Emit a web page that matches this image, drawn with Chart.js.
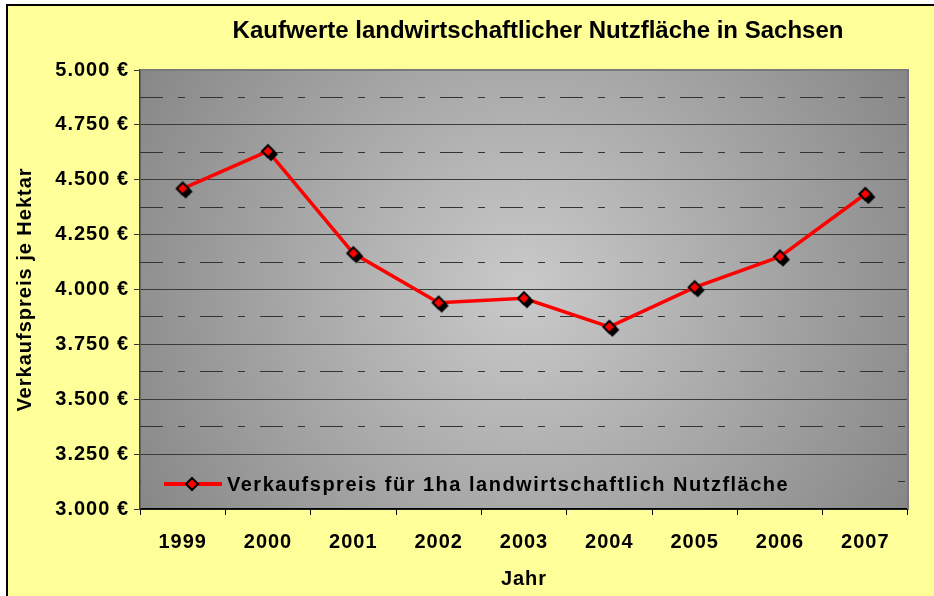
<!DOCTYPE html>
<html>
<head>
<meta charset="utf-8">
<script src="https://cdn.jsdelivr.net/npm/chart.js@4.4.0/dist/chart.umd.min.js"></script>
<style>
html, body { margin: 0; padding: 0; background: #fff; }
canvas { display: block; }
</style>
</head>
<body>
<canvas id="kaufwerteChart" width="934" height="596"></canvas>
<script>
// Daten
const jahre = ['1999', '2000', '2001', '2002', '2003', '2004', '2005', '2006', '2007'];
const verkaufspreise = [4460, 4630, 4165, 3940, 3960, 3830, 4010, 4150, 4435];
const hilfslinien = [3125, 3375, 3625, 3875, 4125, 4375, 4625, 4875];

const titel = 'Kaufwerte landwirtschaftlicher Nutzfläche in Sachsen';
const reihenName = 'Verkaufspreis für 1ha landwirtschaftlich Nutzfläche';
const titelX = 'Jahr';
const titelY = 'Verkaufspreis je Hektar';

const schrift = "'Liberation Sans', Arial, sans-serif";

// 5000 -> "5.000 €"
function formatEuro(wert) {
    const s = String(Math.round(wert));
    return s.slice(0, -3) + '.' + s.slice(-3) + ' €';
}

function raute(ctx, x, y, r) {
    ctx.beginPath();
    ctx.moveTo(x, y - r);
    ctx.lineTo(x + r, y);
    ctx.lineTo(x, y + r);
    ctx.lineTo(x - r, y);
    ctx.closePath();
}

// Marker: rote Raute mit schwarzem Rand und Schatten
const marker = document.createElement('canvas');
marker.width = 26;
marker.height = 26;
(function () {
    const m = marker.getContext('2d');
    raute(m, 16, 16, 7);
    m.fillStyle = '#000';
    m.fill();
    raute(m, 13, 13, 6);
    m.fillStyle = '#ff0000';
    m.fill();
    m.lineWidth = 2;
    m.strokeStyle = '#000';
    m.stroke();
})();

let verlauf = null;

const zeichenPlugin = {
    id: 'zeichenPlugin',
    beforeLayout(chart) {
        chart.ctx.letterSpacing = '1px';
    },
    beforeDraw(chart) {
        const ctx = chart.ctx;
        const a = chart.chartArea;
        ctx.save();
        // gelber Hintergrund mit Rahmen
        ctx.fillStyle = '#ffff99';
        ctx.fillRect(7, 5, chart.width - 7, chart.height - 5);
        ctx.strokeStyle = '#000';
        ctx.lineWidth = 2;
        ctx.beginPath();
        ctx.moveTo(7, chart.height);
        ctx.lineTo(7, 5);
        ctx.lineTo(chart.width, 5);
        ctx.stroke();
        // grauer Verlauf im Diagrammbereich
        const cx = (a.left + a.right) / 2;
        const cy = (a.top + a.bottom) / 2;
        verlauf = ctx.createRadialGradient(cx, cy, 0, cx, cy, 470);
        verlauf.addColorStop(0, '#cacaca');
        verlauf.addColorStop(1, '#838383');
        ctx.fillStyle = verlauf;
        ctx.fillRect(a.left, a.top, a.right - a.left, a.bottom - a.top);
        ctx.restore();
        ctx.letterSpacing = '1px';
    },
    beforeDatasetsDraw(chart) {
        const ctx = chart.ctx;
        const a = chart.chartArea;
        ctx.save();
        ctx.strokeStyle = '#7a7a7a';
        ctx.lineWidth = 2;
        ctx.beginPath();
        ctx.moveTo(a.left, a.top);
        ctx.lineTo(a.right, a.top);
        ctx.lineTo(a.right, a.bottom);
        ctx.stroke();
        ctx.restore();
    },
    afterDatasetsDraw(chart) {
        // Legende innerhalb des Diagramms unten
        const ctx = chart.ctx;
        const a = chart.chartArea;
        const mitte = a.bottom - 25;
        ctx.save();
        ctx.fillStyle = verlauf;
        ctx.fillRect(a.left + 1, mitte - 22, 754, 46);
        ctx.strokeStyle = '#ff0000';
        ctx.lineWidth = 4;
        ctx.beginPath();
        ctx.moveTo(a.left + 24, mitte);
        ctx.lineTo(a.left + 82, mitte);
        ctx.stroke();
        raute(ctx, a.left + 52, mitte, 6);
        ctx.fillStyle = '#ff0000';
        ctx.fill();
        ctx.lineWidth = 2;
        ctx.strokeStyle = '#000';
        ctx.stroke();
        ctx.letterSpacing = '1.5px';
        ctx.font = 'bold 20px ' + schrift;
        ctx.fillStyle = '#000';
        ctx.textAlign = 'left';
        ctx.textBaseline = 'middle';
        ctx.fillText(reihenName, a.left + 87, mitte + 1);
        ctx.restore();
    },
    afterDraw(chart) {
        const ctx = chart.ctx;
        ctx.save();
        ctx.letterSpacing = '0px';
        ctx.font = 'bold 24px ' + schrift;
        ctx.fillStyle = '#000';
        ctx.textAlign = 'center';
        ctx.textBaseline = 'middle';
        ctx.fillText(titel, 538, 31);
        ctx.restore();
    }
};

const ctx = document.getElementById('kaufwerteChart').getContext('2d');
const kaufwerteChart = new Chart(ctx, {
    type: 'line',
    data: {
        labels: jahre,
        datasets: [{
            label: reihenName,
            data: verkaufspreise,
            borderColor: '#ff0000',
            borderWidth: 3.5,
            pointStyle: marker,
            pointRadius: 7,
            tension: 0,
            fill: false
        }]
    },
    options: {
        responsive: false,
        animation: false,
        devicePixelRatio: 1,
        layout: {
            padding: { left: 7, top: 70, right: 26, bottom: 0 }
        },
        plugins: {
            legend: { display: false },
            tooltip: { enabled: false },
            title: { display: false }
        },
        scales: {
            x: {
                type: 'category',
                offset: true,
                afterFit: (scale) => { scale.height = 87; },
                grid: {
                    offset: true,
                    drawOnChartArea: false,
                    tickLength: 6,
                    color: '#000'
                },
                border: { color: '#000', width: 1.5 },
                ticks: {
                    color: '#000',
                    padding: 15,
                    font: { family: schrift, size: 20, weight: 'bold' }
                },
                title: {
                    display: true,
                    text: titelX,
                    color: '#000',
                    padding: { top: 0, bottom: 5 },
                    font: { family: schrift, size: 20, weight: 'bold' }
                }
            },
            y: {
                min: 3000,
                max: 5000,
                afterFit: (scale) => { scale.width = 133; },
                grid: {
                    color: (c) => (c.tick && c.tick.value === 5000 ? 'rgba(0,0,0,0)' : '#3a3a3a'),
                    tickColor: '#333',
                    tickLength: 6,
                    lineWidth: 1
                },
                border: { color: '#404040', width: 1.5 },
                ticks: {
                    stepSize: 250,
                    color: '#000',
                    padding: 5,
                    font: { family: schrift, size: 20, weight: 'bold' },
                    callback: (wert) => formatEuro(wert)
                },
                title: {
                    display: true,
                    text: titelY,
                    color: '#000',
                    padding: { top: 6, bottom: 0 },
                    font: { family: schrift, size: 20, weight: 'bold' }
                }
            },
            yHilfe: {
                type: 'linear',
                position: 'left',
                min: 3000,
                max: 5000,
                afterBuildTicks: (scale) => { scale.ticks = hilfslinien.map(v => ({ value: v })); },
                afterFit: (scale) => { scale.width = 0; },
                grid: {
                    color: '#333',
                    lineWidth: 1,
                    drawTicks: false
                },
                border: { display: false, dash: [23, 15, 7, 15] },
                ticks: { display: false }
            }
        }
    },
    plugins: [zeichenPlugin]
});
</script>
</body>
</html>
